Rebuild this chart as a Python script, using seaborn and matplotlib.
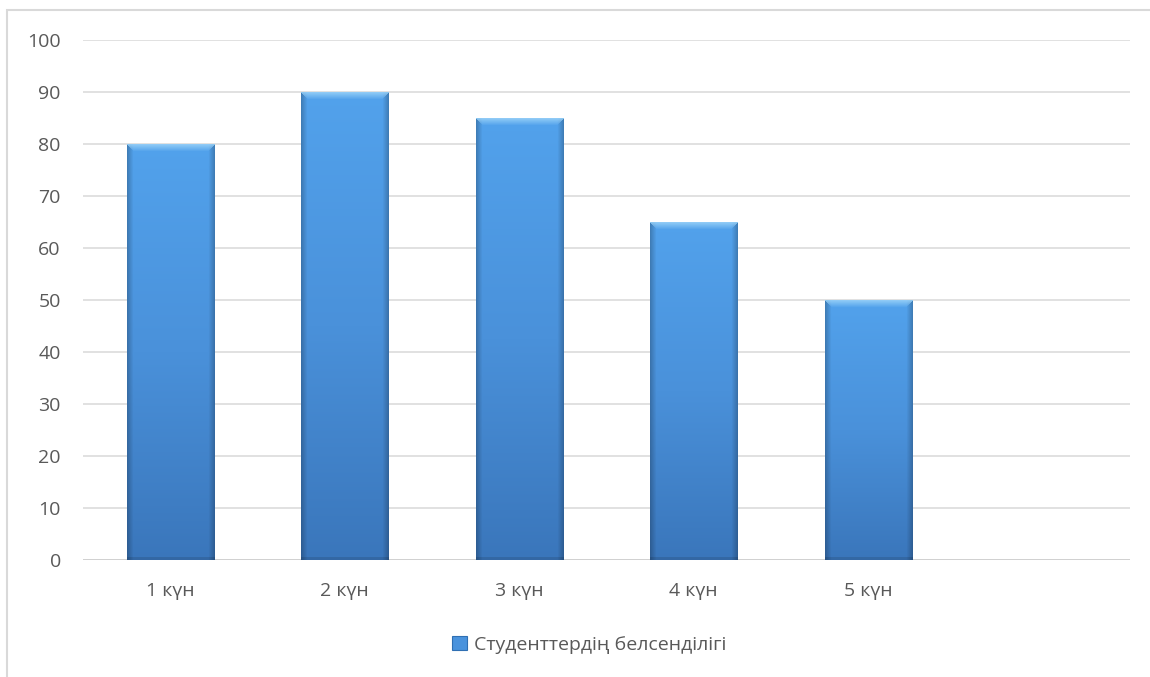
import numpy as np
import pandas as pd
import matplotlib
matplotlib.use("Agg")
import matplotlib.pyplot as plt
import seaborn as sns
from matplotlib.patches import Rectangle
from matplotlib.colors import to_rgb

days = ["1 күн", "2 күн", "3 күн", "4 күн", "5 күн"]
activity = [80, 90, 85, 65, 50]
series_name = "Студенттердің белсенділігі"
y_ticks = [0, 10, 20, 30, 40, 50, 60, 70, 80, 90, 100]

sns.set_theme(style="white")
plt.rcParams["font.family"] = ["Open Sans", "DejaVu Sans"]

df = pd.DataFrame({"day": days, "value": activity})

fig = plt.figure(figsize=(11.5, 6.77), dpi=100)
ax = fig.add_axes([83 / 1150, 1 - 560 / 677, (1130 - 83) / 1150, (560 - 40) / 677])

base = "#4a93dd"
sns.barplot(data=df, x="day", y="value", color=base, width=0.5, ax=ax,
            saturation=1, zorder=3, errorbar=None)

ax.set_xlim(-0.5, 5.5)
ax.set_ylim(0, 100)
ax.set_yticks(y_ticks)
ax.set_xlabel("")
ax.set_ylabel("")
ax.grid(axis="y", color="#d9d9d9", linewidth=1.1, zorder=0)
for s in ax.spines.values():
    s.set_visible(False)
ax.axhline(0, color="#d0d0d0", linewidth=1.3, zorder=2)
ax.tick_params(axis="both", length=0, labelsize=14, labelcolor="#595959")
ax.tick_params(axis="y", pad=16)
ax.tick_params(axis="x", pad=16)

# shaded bevelled fill for each bar
top_c = np.array(to_rgb("#52a2ec"))
mid_c = np.array(to_rgb("#4a91da"))
bot_c = np.array(to_rgb("#3a76bb"))
hi_c = np.array(to_rgb("#9ad2f8"))
fig.canvas.draw()
for p in list(ax.patches):
    x0, y0 = p.get_x(), p.get_y()
    w, h = p.get_width(), p.get_height()
    if h <= 0:
        continue
    bb = p.get_window_extent()
    hpx = max(int(round(bb.height)), 2)
    wpx = max(int(round(bb.width)), 2)
    t = np.linspace(0, 1, hpx)[:, None]  # 0 top -> 1 bottom
    col = np.where(t < 0.5,
                   top_c + (mid_c - top_c) * (t / 0.5),
                   mid_c + (bot_c - mid_c) * ((t - 0.5) / 0.5))
    img = np.repeat(col[:, None, :], wpx, axis=1).reshape(hpx, wpx, 3)
    xs = np.arange(wpx)
    edge = np.minimum(xs, wpx - 1 - xs)
    shade = np.clip(edge / 6.0, 0, 1) * 0.22 + 0.78
    img = img * shade[None, :, None]
    bev = 7
    for r in range(min(bev, hpx)):
        a = 1 - r / bev
        lo = r if r < wpx // 2 else 0
        img[r, lo:wpx - lo] = img[r, lo:wpx - lo] * (1 - a * 0.85) + hi_c * a * 0.85
    img[-3:] = img[-3:] * 0.88
    p.set_facecolor("none")
    p.set_edgecolor("none")
    ax.imshow(np.clip(img, 0, 1), extent=(x0, x0 + w, y0, y0 + h), aspect="auto",
              zorder=3, interpolation="bilinear")
ax.set_xlim(-0.5, 5.5)
ax.set_ylim(0, 100)

# legend
handle = Rectangle((0, 0), 1, 1, facecolor="#4a93dd", edgecolor="#2f6fb3", linewidth=0.8)
fig.legend([handle], [series_name], loc="center", bbox_to_anchor=(589 / 1150, 1 - 645 / 677),
           frameon=False, fontsize=14, handlelength=0.75, handleheight=0.75,
           handletextpad=0.35, labelcolor="#595959")

# chart area border
fig.patches.append(Rectangle((7 / 1150, -0.05), 1.1, 1 - 10 / 677 + 0.05, transform=fig.transFigure,
                             fill=False, edgecolor="#d9d9d9", linewidth=1.5, zorder=0))

fig.savefig("out.png", dpi=100, facecolor="white")
